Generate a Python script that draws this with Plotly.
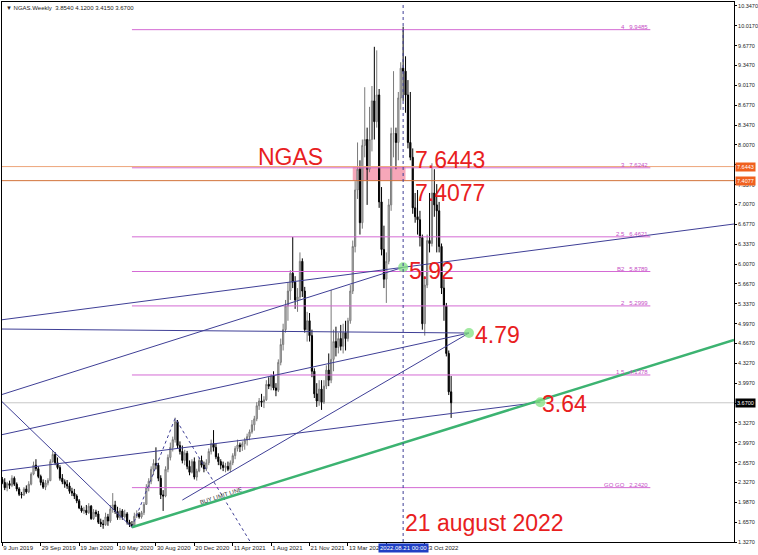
import numpy as np
import pandas as pd
import plotly.graph_objects as go

# weekly NGAS candles, first bar = week of 9 Jun 2019
first_week = "2019-06-09"
opens = [2.38, 2.33, 2.24, 2.31, 2.28, 2.40, 2.30, 2.22, 2.13, 2.12, 2.22, 2.17, 2.30, 2.47, 2.62, 2.56, 2.43, 2.33, 2.25, 2.32,
         2.36, 2.68, 2.80, 2.66, 2.58, 2.40, 2.34, 2.30, 2.27, 2.18, 2.15, 2.10, 2.02, 1.90, 1.85, 1.86, 1.82, 1.93, 1.72, 1.83,
         1.80, 1.66, 1.63, 1.62, 1.75, 1.68, 1.88, 1.95, 1.84, 1.74, 1.85, 1.75, 1.80, 1.66, 1.62, 1.60, 1.76, 1.80, 1.75, 1.82,
         1.96, 2.25, 2.35, 2.55, 2.65, 2.62, 2.40, 2.12, 2.10, 2.55, 2.75, 2.92, 3.05, 3.35, 2.95, 2.85, 2.70, 2.82, 2.60, 2.50,
         2.68, 2.42, 2.52, 2.70, 2.62, 2.56, 2.66, 2.85, 2.98, 2.92, 2.76, 2.68, 2.62, 2.58, 2.60, 2.55, 2.66, 2.78, 2.90, 2.96,
         2.93, 2.98, 3.04, 3.10, 3.18, 3.30, 3.40, 3.62, 3.70, 3.68, 3.72, 3.98, 3.95, 4.12, 3.92, 3.88, 4.35, 4.65, 4.90, 5.30,
         5.55, 5.85, 5.70, 5.40, 5.45, 6.05, 5.55, 4.90, 5.05, 4.80, 4.20, 3.82, 3.70, 3.90, 3.68, 3.95, 4.22, 4.05, 4.40, 4.70,
         4.60, 4.75, 4.62, 4.85, 4.75, 5.05, 5.55, 6.30, 7.25, 7.60, 6.70, 8.00, 8.10, 7.60, 8.10, 8.75, 8.40, 8.85, 7.05, 6.25,
         5.75, 6.05, 7.00, 8.20, 8.20, 8.05, 8.80, 9.30, 9.25, 8.85, 8.05, 7.80, 6.95, 6.80, 6.75, 6.45, 5.00, 5.65, 6.40, 6.35,
         7.20, 7.00, 6.90, 6.30, 5.60, 5.30, 4.50, 3.854]
highs = [2.42, 2.40, 2.34, 2.36, 2.45, 2.43, 2.33, 2.25, 2.17, 2.25, 2.28, 2.35, 2.50, 2.68, 2.72, 2.60, 2.46, 2.38, 2.37, 2.40,
         2.72, 2.86, 2.84, 2.75, 2.62, 2.47, 2.38, 2.37, 2.33, 2.24, 2.22, 2.13, 2.05, 1.94, 1.92, 1.95, 1.98, 1.95, 1.88, 1.87,
         1.85, 1.72, 1.70, 1.82, 1.80, 1.95, 2.15, 2.02, 1.92, 1.90, 1.88, 1.87, 1.83, 1.70, 1.68, 1.82, 1.86, 1.83, 1.85, 2.00,
         2.30, 2.40, 2.60, 2.72, 2.92, 2.66, 2.45, 2.20, 2.60, 2.80, 3.00, 3.10, 3.42, 3.38, 3.02, 2.95, 2.88, 2.86, 2.70, 2.72,
         2.75, 2.56, 2.75, 2.78, 2.68, 2.72, 2.90, 3.05, 3.21, 2.98, 2.82, 2.72, 2.68, 2.66, 2.68, 2.70, 2.82, 2.94, 3.05, 3.00,
         3.02, 3.08, 3.15, 3.22, 3.38, 3.45, 3.68, 3.75, 3.82, 3.78, 4.05, 4.10, 4.15, 4.20, 4.00, 4.40, 4.75, 5.00, 5.40, 5.70,
         5.90, 6.46, 5.80, 5.60, 6.20, 6.10, 5.62, 5.20, 5.18, 4.90, 4.25, 4.00, 4.05, 4.05, 4.05, 4.30, 4.50, 5.57, 4.90, 4.95,
         4.85, 4.98, 5.00, 5.05, 5.10, 5.65, 6.40, 7.40, 8.05, 7.75, 8.10, 8.98, 8.30, 8.65, 9.00, 9.66, 9.60, 8.95, 7.30, 6.65,
         6.20, 7.10, 8.30, 9.25, 8.30, 8.90, 9.40, 10.00, 9.50, 9.10, 8.90, 7.95, 7.20, 7.25, 6.90, 6.50, 5.80, 6.50, 7.20, 7.70,
         7.60, 7.35, 7.05, 6.35, 5.75, 5.35, 4.55, 4.12]
lows = [2.30, 2.20, 2.18, 2.22, 2.25, 2.27, 2.18, 2.10, 2.06, 2.10, 2.14, 2.15, 2.28, 2.45, 2.52, 2.40, 2.28, 2.22, 2.20, 2.28,
        2.35, 2.66, 2.62, 2.55, 2.36, 2.30, 2.24, 2.22, 2.14, 2.10, 2.05, 1.98, 1.88, 1.82, 1.80, 1.78, 1.80, 1.70, 1.70, 1.75,
        1.63, 1.58, 1.55, 1.60, 1.60, 1.65, 1.82, 1.80, 1.70, 1.70, 1.70, 1.72, 1.62, 1.58, 1.575, 1.60, 1.73, 1.72, 1.72, 1.78,
        1.95, 2.18, 2.30, 2.45, 2.55, 2.35, 2.05, 1.85, 2.08, 2.50, 2.70, 2.85, 3.00, 2.90, 2.80, 2.65, 2.62, 2.55, 2.45, 2.48,
        2.38, 2.36, 2.50, 2.58, 2.50, 2.52, 2.62, 2.80, 2.85, 2.72, 2.62, 2.55, 2.52, 2.50, 2.52, 2.50, 2.62, 2.72, 2.85, 2.84,
        2.86, 2.88, 2.95, 3.04, 3.15, 3.20, 3.36, 3.55, 3.60, 3.58, 3.70, 3.90, 3.88, 3.88, 3.78, 3.85, 4.30, 4.55, 4.85, 5.05,
        5.40, 5.60, 5.25, 5.20, 5.40, 5.45, 4.85, 4.70, 4.70, 4.10, 3.75, 3.60, 3.62, 3.55, 3.65, 3.90, 3.95, 4.00, 4.20, 4.45,
        4.50, 4.55, 4.50, 4.55, 4.70, 5.00, 5.50, 6.20, 7.10, 6.50, 6.60, 7.80, 7.00, 7.55, 7.90, 8.10, 8.30, 6.95, 6.15, 5.60,
        5.35, 6.00, 6.90, 7.80, 7.60, 7.75, 8.60, 8.75, 8.55, 7.95, 7.75, 6.85, 6.70, 6.50, 6.30, 4.90, 4.80, 5.60, 6.20, 6.30,
        6.80, 6.20, 6.20, 5.50, 5.05, 4.45, 3.80, 3.415]
closes = [2.33, 2.24, 2.31, 2.28, 2.40, 2.30, 2.22, 2.13, 2.12, 2.22, 2.17, 2.30, 2.47, 2.62, 2.56, 2.43, 2.33, 2.25, 2.32, 2.36,
          2.68, 2.80, 2.66, 2.58, 2.40, 2.34, 2.30, 2.27, 2.18, 2.15, 2.10, 2.02, 1.90, 1.85, 1.86, 1.82, 1.93, 1.72, 1.83, 1.80,
          1.66, 1.63, 1.62, 1.75, 1.68, 1.88, 1.95, 1.84, 1.74, 1.85, 1.75, 1.80, 1.66, 1.62, 1.60, 1.76, 1.80, 1.75, 1.82, 1.96,
          2.25, 2.35, 2.55, 2.65, 2.62, 2.40, 2.12, 2.10, 2.55, 2.75, 2.92, 3.05, 3.35, 2.95, 2.85, 2.70, 2.82, 2.60, 2.50, 2.68,
          2.42, 2.52, 2.70, 2.62, 2.56, 2.66, 2.85, 2.98, 2.92, 2.76, 2.68, 2.62, 2.58, 2.60, 2.55, 2.66, 2.78, 2.90, 2.96, 2.93,
          2.98, 3.04, 3.10, 3.18, 3.30, 3.40, 3.62, 3.70, 3.68, 3.72, 3.98, 3.95, 4.12, 3.92, 3.88, 4.35, 4.65, 4.90, 5.30, 5.55,
          5.85, 5.70, 5.40, 5.45, 6.05, 5.55, 4.90, 5.05, 4.80, 4.20, 3.82, 3.70, 3.90, 3.68, 3.95, 4.22, 4.05, 4.40, 4.70, 4.60,
          4.75, 4.62, 4.85, 4.75, 5.05, 5.55, 6.30, 7.25, 7.60, 6.70, 8.00, 8.10, 7.60, 8.10, 8.75, 8.40, 8.85, 7.05, 6.25, 5.75,
          6.05, 7.00, 8.20, 8.20, 8.05, 8.80, 9.30, 9.25, 8.85, 8.05, 7.80, 6.95, 6.80, 6.75, 6.45, 5.00, 5.65, 6.40, 6.35, 7.20,
          7.00, 6.90, 6.30, 5.60, 5.30, 4.50, 3.854, 3.67]

# price scale labels as MT4 prints them (bottom to top)
y_tick_text = ["1.3270", "1.6570", "1.9870", "2.3270", "2.6570", "2.9970", "3.3270", "", "3.9970", "4.3270",
               "4.6670", "4.9970", "5.3370", "5.6670", "6.0070", "6.3370", "6.6770", "7.0070", "7.3370", "",
               "8.0070", "8.3470", "8.6770", "9.0170", "9.3470", "9.6770", "10.0170", "10.3470"]
x_tick_dates = ["2019-06-09", "2019-09-29", "2020-01-19", "2020-05-10", "2020-08-30", "2020-12-20",
                "2021-04-11", "2021-08-01", "2021-11-21", "2022-03-13", "2022-07-03", "2022-10-23"]
x_tick_text = ["9 Jun 2019", "29 Sep 2019", "19 Jan 2020", "10 May 2020", "30 Aug 2020", "20 Dec 2020",
               "11 Apr 2021", "1 Aug 2021", "21 Nov 2021", "13 Mar 2022", "3 Jul 2022", "23 Oct 2022"]

# fibo expansion levels
fib_levels = [9.9485, 7.6242, 6.4621, 5.8789, 5.2999, 4.1378, 2.2420]
fib_labels = ["4   9.9485", "3   7.6242", "2.5   6.4621", "B2   5.8789", "2   5.2999", "1.5   4.1378", "GO GO   2.2420"]
fib_start, fib_end = "2020-06-21", "2024-08-11"

resistance_levels = [7.6443, 7.4077]
last_price = 3.67

# drawn trend lines: ((date, price), (date, price))
navy_lines = [
    (("2019-06-03", 5.063), ("2025-04-12", 6.678)),
    (("2019-06-03", 3.800), ("2022-08-21", 5.950)),
    (("2019-06-03", 3.716), ("2020-06-21", 1.575)),
    (("2019-06-03", 3.127), ("2023-03-01", 4.844)),
    (("2019-06-03", 2.521), ("2023-09-25", 3.680)),
    (("2019-06-03", 4.911), ("2023-03-01", 4.844)),
    (("2020-11-15", 2.033), ("2023-03-01", 4.844)),
]
zigzag_x = ["2020-06-21", "2020-10-25", "2021-06-01"]
zigzag_y = [1.575, 3.41, 1.33]
green_x = ["2020-06-21", "2025-04-12"]
green_y = [1.575, 4.726]
touch_x = ["2022-08-21", "2023-03-01", "2023-09-25"]
touch_y = [5.950, 4.844, 3.680]

marked_day = "2022-08-21"
red_notes = [("NGAS", "2021-09-26", 7.81, "center"),
             ("7.6443", "2022-09-20", 7.76, "left"),
             ("7.4077", "2022-09-20", 7.20, "left"),
             ("5.92", "2022-09-01", 5.89, "left"),
             ("4.79", "2023-03-12", 4.81, "left"),
             ("3.64", "2023-09-25", 3.65, "left"),
             ("21 august 2022", "2022-08-21", 1.65, "left")]

dates = pd.date_range(first_week, periods=len(closes), freq="7D")

fig = go.Figure()

fig.add_trace(go.Candlestick(
    x=dates, open=opens, high=highs, low=lows, close=closes,
    increasing=dict(line=dict(color="#7a7a7a", width=1), fillcolor="#d4d4d4"),
    decreasing=dict(line=dict(color="#000000", width=1), fillcolor="#000000"),
    whiskerwidth=0, showlegend=False, hoverinfo="skip"))

# fibo lines
fx, fy = [], []
for lv in fib_levels:
    fx += [fib_start, fib_end, None]
    fy += [lv, lv, None]
fig.add_trace(go.Scatter(x=fx, y=fy, mode="lines", line=dict(color="#d46ad4", width=1),
                         showlegend=False, hoverinfo="skip"))

# navy trend lines
nx, ny = [], []
for (a, b) in navy_lines:
    nx += [a[0], b[0], None]
    ny += [a[1], b[1], None]
fig.add_trace(go.Scatter(x=nx, y=ny, mode="lines", line=dict(color="#3f3f96", width=1),
                         showlegend=False, hoverinfo="skip"))

fig.add_trace(go.Scatter(x=zigzag_x, y=zigzag_y, mode="lines", line=dict(color="#3f3f96", width=1, dash="dot"),
                         showlegend=False, hoverinfo="skip"))

fig.add_trace(go.Scatter(x=green_x, y=green_y, mode="lines", line=dict(color="#3cb371", width=2.5),
                         showlegend=False, hoverinfo="skip"))

fig.add_trace(go.Scatter(x=touch_x, y=touch_y, mode="markers",
                         marker=dict(color="rgba(130,225,130,0.75)", size=10, line=dict(width=0)),
                         showlegend=False, hoverinfo="skip"))

# pink zone + horizontal levels
fig.add_shape(type="rect", x0="2022-03-27", x1="2022-08-28", y0=resistance_levels[1], y1=resistance_levels[0],
              fillcolor="#f6a7b9", line=dict(width=0), layer="below")
fig.add_hline(y=resistance_levels[0], line=dict(color="#eda57a", width=1))
fig.add_hline(y=resistance_levels[1], line=dict(color="#d2733a", width=1))
fig.add_hline(y=last_price, line=dict(color="#c8c8c8", width=1), layer="below")
fig.add_vline(x=marked_day, line=dict(color="#3f3f96", width=1, dash="dot"))

for lv, txt in zip(fib_levels, fib_labels):
    fig.add_annotation(x=fib_end, y=lv, text=txt, showarrow=False, xanchor="right", yanchor="bottom",
                       font=dict(family="Liberation Sans", size=6, color="#c64fc6"), yshift=-2)

for txt, xd, yv, anchor in red_notes:
    fig.add_annotation(x=xd, y=yv, text=txt, showarrow=False, xanchor=anchor, yanchor="middle",
                       font=dict(family="Liberation Sans", size=23, color="#e8201e"))

fig.add_annotation(x="2021-03-07", y=2.10, text="BUY LIMIT LINE", showarrow=False, textangle=-18,
                   font=dict(family="Liberation Sans", size=6, color="#333333"))

# price boxes on the scale
for lv, txt, bg in [(resistance_levels[0], "7.6443", "#f0601e"), (resistance_levels[1], "7.4077", "#f0601e"),
                    (last_price, "3.6700", "#000000")]:
    fig.add_annotation(xref="paper", x=1, y=lv, text=txt, showarrow=False, xanchor="left", yanchor="middle",
                       bgcolor=bg, borderpad=1, xshift=1,
                       font=dict(family="Liberation Sans", size=5.5, color="#ffffff"))

fig.add_annotation(x=marked_day, yref="paper", y=0, text="2022.08.21 00:00", showarrow=False,
                   xanchor="center", yanchor="top", bgcolor="#1f3fc4", borderpad=1, yshift=-1,
                   font=dict(family="Liberation Sans", size=6, color="#ffffff"))

fig.add_annotation(xref="paper", yref="paper", x=0, y=1, text="▼ NGAS.Weekly  3.8540 4.1200 3.4150 3.6700",
                   showarrow=False, xanchor="left", yanchor="top", xshift=2, yshift=-1,
                   font=dict(family="Liberation Sans", size=6, color="#222222"))

fig.update_layout(
    width=758, height=555,
    margin=dict(l=2, r=24, t=2, b=13),
    paper_bgcolor="white", plot_bgcolor="white",
    template="none", showlegend=False,
    xaxis=dict(type="date", range=["2019-06-08", "2025-04-12"], rangeslider=dict(visible=False),
               showgrid=False, zeroline=False, showline=True, linecolor="#000000", linewidth=1, mirror=True,
               tickvals=x_tick_dates, ticktext=x_tick_text, ticks="outside", ticklen=3, tickcolor="#000000",
               ticklabelposition="outside right", tickangle=0, automargin=False,
               tickfont=dict(family="Liberation Sans", size=6, color="#222222")),
    yaxis=dict(range=[1.327, 10.414], side="right", showgrid=False, zeroline=False,
               showline=True, linecolor="#000000", linewidth=1, mirror=True,
               tickvals=np.linspace(1.327, 10.347, 28), ticktext=y_tick_text,
               ticks="outside", ticklen=2, tickcolor="#000000", automargin=False,
               tickfont=dict(family="Liberation Sans", size=5.5, color="#222222")),
)

# the page's default body margin would shift the chart off the window
fig.write_html("out.html", config={"displayModeBar": False},
               post_script="document.body.style.margin='0';")
